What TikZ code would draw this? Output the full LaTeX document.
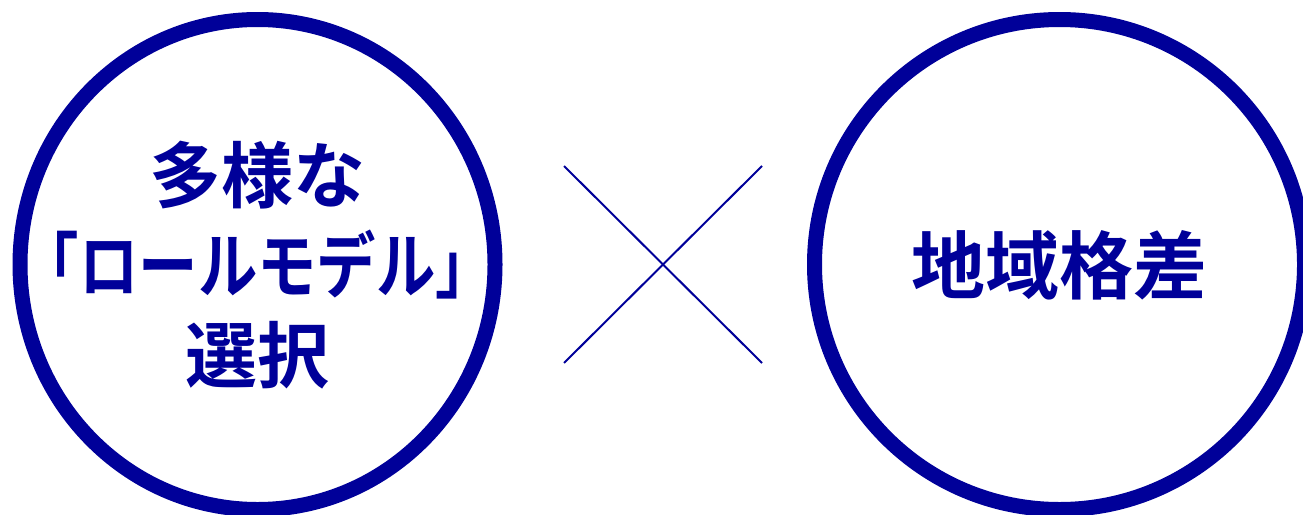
\documentclass[tikz,border=0pt]{standalone}
\usepackage{graphicx}
\usepackage{fontspec}
\newfontfamily\jpfont{Noto Sans CJK JP}[BoldFont={Noto Sans CJK JP Bold}]
\definecolor{navy}{RGB}{0,0,153}

\tikzset{
  ring/.style={draw=navy, line width=15pt},
  bigtext/.style={text=navy, align=center, inner sep=0pt,
    font=\jpfont\bfseries\fontsize{72}{90}\selectfont},
}

\begin{document}
\begin{tikzpicture}[x=1pt, y=-1pt]
  \useasboundingbox (0,0) rectangle (1303,514);

  % left circle
  \draw[ring] (257.5,264.5) ellipse [x radius=237.5, y radius=245];
  \node[bigtext] (choice) at (257.5,265) {多様な\\\scalebox{0.825}[1]{「ロールモデル」}\\選択};

  % cross
  \draw[navy, line width=2pt] (564,166) -- (762,363);
  \draw[navy, line width=2pt] (564,363) -- (762,166);

  % right circle
  \draw[ring] (1059.5,264.5) circle [radius=245];
  \node[bigtext, font=\jpfont\bfseries\fontsize{74}{90}\selectfont] (gap) at (1059.5,265.5) {地域格差};
\end{tikzpicture}
\end{document}
